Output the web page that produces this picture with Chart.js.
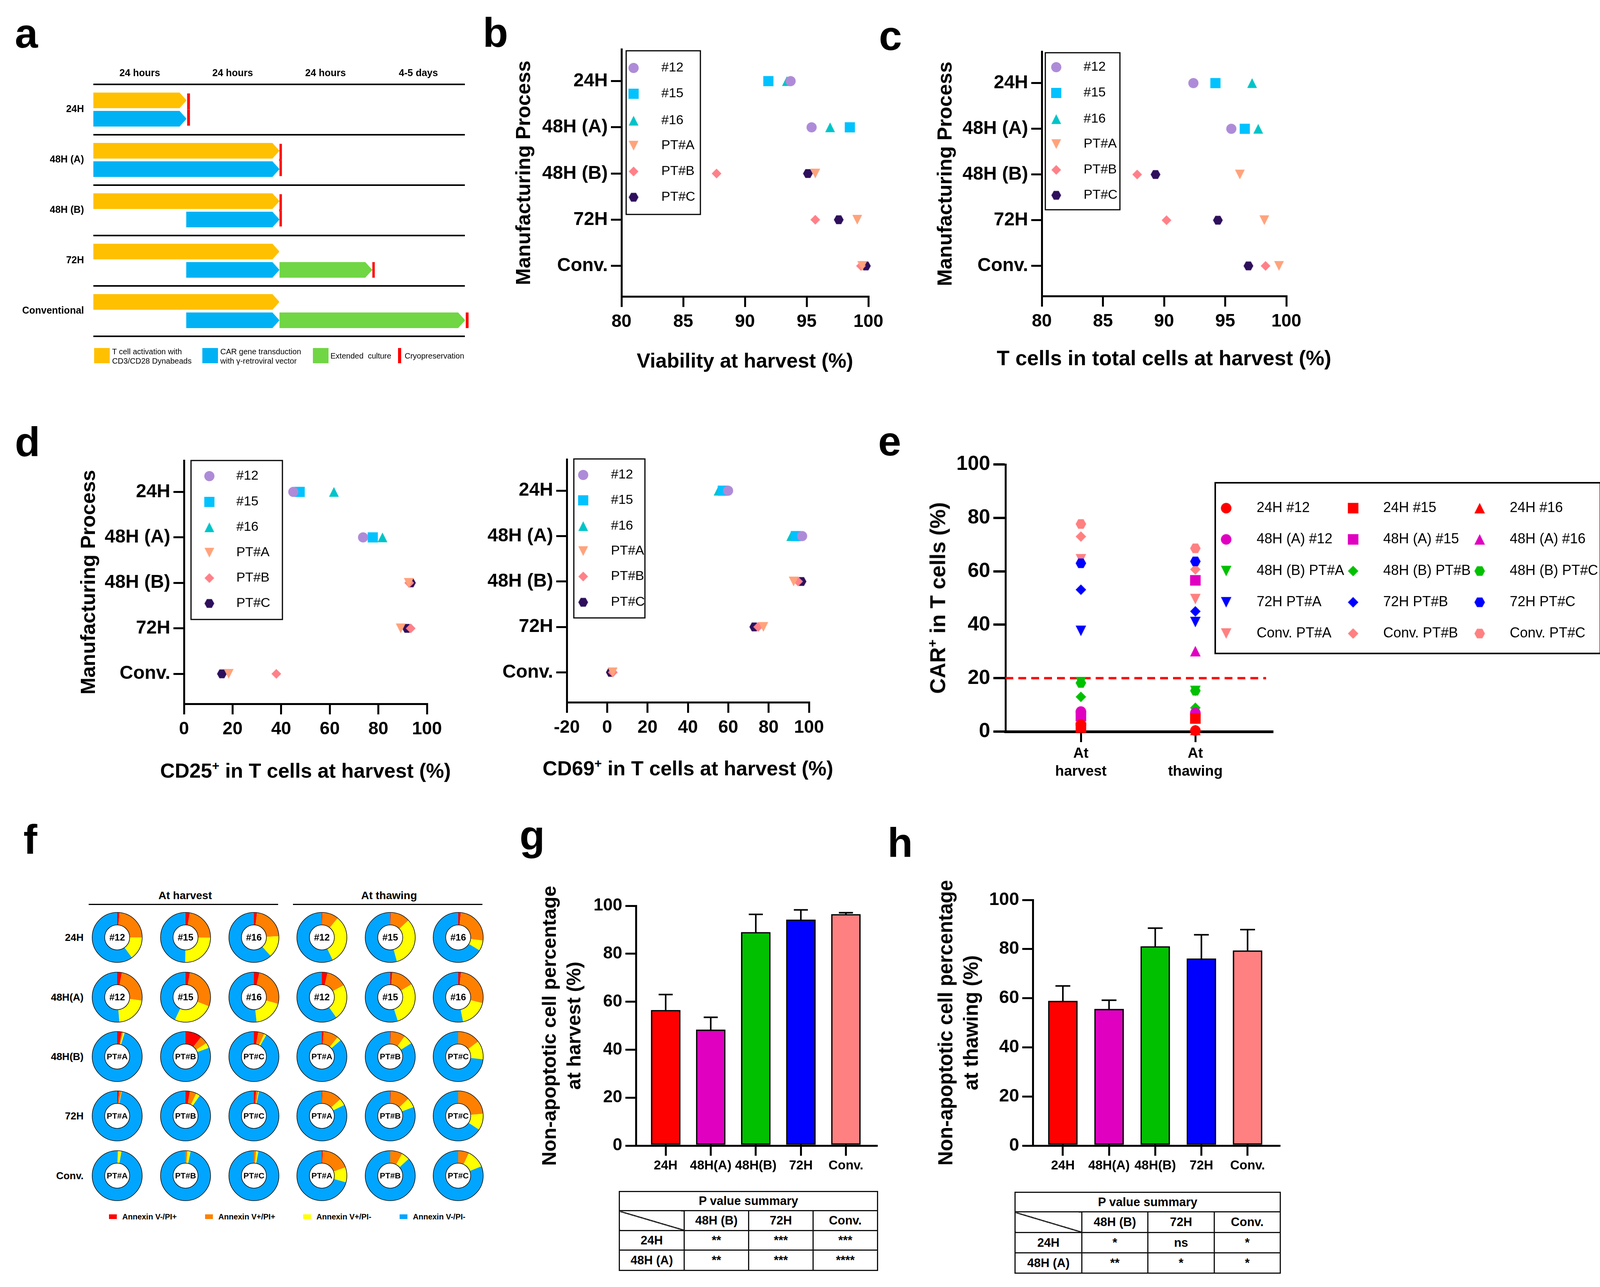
<!DOCTYPE html>
<html>
<head>
<meta charset="utf-8">
<title>CAR-T manufacturing process comparison</title>
<script src="https://cdn.jsdelivr.net/npm/chart.js@4"></script>
<style>
    html, body { margin: 0; background: #fff; }
    #page { position: relative; width: 4146px; height: 3295px; overflow: hidden; background: #fff;
            font-family: "Liberation Sans", Arial, sans-serif; color: #000; }
    #page canvas { position: absolute; display: block; }
    .txt { position: absolute; white-space: pre; line-height: 1; }
    .txt sup { font-size: 0.62em; line-height: 0; vertical-align: baseline; position: relative; top: -0.62em; }
    .swatch { position: absolute; }
    table.pval { position: absolute; border-collapse: collapse; table-layout: fixed; font-weight: bold; font-size: 31px; }
    table.pval td { border: 3px solid #111; text-align: center; padding: 0; overflow: hidden; }
    table.pval td.diag { background: linear-gradient(to top right, transparent calc(50% - 1.5px), #111 calc(50% - 1.5px), #111 calc(50% + 1.5px), transparent calc(50% + 1.5px)); }
</style>
</head>
<body>
<div id="page"></div>
<script>
// Shared labels
const processLabels = ['24H', '48H (A)', '48H (B)', '72H', 'Conv.'];
const donorLabels = ['#12', '#15', '#16', 'PT#A', 'PT#B', 'PT#C'];

// Panel a: culture stages in units of the four time columns
const timelineLabels = ['24H', '48H (A)', '48H (B)', '72H', 'Conventional'];
const periodLabels = ['24 hours', '24 hours', '24 hours', '4-5 days'];
const activationStage = [[0, 1], [0, 2], [0, 2], [0, 2], [0, 2]];
const transductionStage = [[0, 1], [0, 2], [1, 2], [1, 2], [1, 2]];
const extendedStage = [null, null, null, [2, 3], [2, 4]];
const cryoRowWide = [[1.01, 1.04], [2.0, 2.03], [2.0, 2.03], null, null];
const cryoRowLow = [null, null, null, [3.0, 3.03], [4.01, 4.04]];

// Panel b: viability at harvest
const viability12 = [93.7, 95.4, null, null, null];
const viability15 = [91.9, 98.5, null, null, null];
const viability16 = [93.4, 96.9, null, null, null];
const viabilityPtA = [null, null, 95.7, 99.1, 99.5];
const viabilityPtB = [null, null, 87.7, 95.7, 99.4];
const viabilityPtC = [null, null, 95.1, 97.6, 99.8];

// Panel c: T cells in total cells
const tcell12 = [92.4, 95.5, null, null, null];
const tcell15 = [94.2, 96.6, null, null, null];
const tcell16 = [97.2, 97.7, null, null, null];
const tcellPtA = [null, null, 96.2, 98.2, 99.4];
const tcellPtB = [null, null, 87.8, 90.2, 98.3];
const tcellPtC = [null, null, 89.3, 94.4, 96.9];

// Panel d: CD25 and CD69
const cd25a12 = [45, 73.7, null, null, null];
const cd25a15 = [47.6, 77.7, null, null, null];
const cd25a16 = [61.7, 81.7, null, null, null];
const cd25PtA = [null, null, 92.5, 89.2, 18.4];
const cd25PtB = [null, null, 92.7, 93.3, 38];
const cd25PtC = [null, null, 93.4, 91.8, 15.6];
const cd69a12 = [59.9, 96.6, null, null, null];
const cd69a15 = [57.3, 93.5, null, null, null];
const cd69a16 = [55.2, 91.2, null, null, null];
const cd69PtA = [null, null, 92.4, 77.4, 2.7];
const cd69PtB = [null, null, 94.6, 74.8, 2.8];
const cd69PtC = [null, null, 96.3, 72.9, 1.8];

// Panel e: CAR+ in T cells
const carLabels = ['24H #12', '24H #15', '24H #16', '48H (A) #12', '48H (A) #15', '48H (A) #16',
    '48H (B) PT#A', '48H (B) PT#B', '48H (B) PT#C', '72H PT#A', '72H PT#B', '72H PT#C',
    'Conv. PT#A', 'Conv. PT#B', 'Conv. PT#C'];
const carHarvest = [2.7, 1.5, 2.2, 7.5, 5.8, 4.4, 18.5, 13, 18.2, 37.7, 53.1, 63, 64.5, 73, 77.7];
const carThawing = [0.4, 4.9, 0.6, 7, 56.6, 30.1, 15.2, 8.9, 15.3, 41, 45, 63.7, 49.6, 60.7, 68.6];
const carTimepoints = [['At', 'harvest'], ['At', 'thawing']];
const carThreshold = 20;

// Panel f: [V-/PI+, V+/PI+, V+/PI-, V-/PI-] per donor, one array per process
const annexinLabels = ['Annexin V-/PI+', 'Annexin V+/PI+', 'Annexin V+/PI-', 'Annexin V-/PI-'];
const harvest24H = [[1.5, 23.5, 15, 60], [2.7, 22.5, 25, 49.8], [2, 22.2, 14.1, 61.7]];
const harvest48A = [[3, 24.2, 21.4, 51.4], [2.8, 28.1, 26.1, 43], [3.5, 25.8, 19, 51.7]];
const harvest48B = [[2.9, 0.9, 1.1, 95.1], [10.7, 5.2, 3.4, 80.7], [2.8, 4, 1.5, 91.7]];
const harvest72H = [[1.2, 1.4, 0.3, 97.1], [2.8, 4.3, 2.6, 90.3], [1.4, 1.4, 0.5, 96.7]];
const harvestConv = [[0, 0.6, 2.2, 97.2], [0, 1.2, 2.1, 96.7], [0, 1.4, 1.5, 97.1]];
const thawing24H = [[0.3, 10.6, 32, 57.1], [0.3, 12.7, 32.7, 54.3], [1.7, 25.3, 6.7, 66.3]];
const thawing48A = [[3.6, 13.4, 23.2, 59.8], [1.3, 15, 28.8, 54.9], [1.8, 27, 18.1, 53.1]];
const thawing48B = [[1.1, 9.8, 2.7, 86.4], [0.3, 9.5, 6.2, 84], [0, 14.7, 12.1, 73.2]];
const thawing72H = [[0.3, 13, 4.5, 82.2], [0.3, 12.6, 6.3, 80.8], [0, 23.6, 10.7, 65.7]];
const thawingConv = [[0.6, 19, 9.7, 70.7], [0, 7.9, 5.3, 86.8], [0, 7, 11.9, 81.1]];

// Panels g and h: non-apoptotic percentage and upper error bar
const barLabels = ['24H', '48H(A)', '48H(B)', '72H', 'Conv.'];
const apoptHarvest = [56.5, 48.3, 89, 94.2, 96.5];
const apoptHarvestErr = [63, 53.5, 96.4, 98.3, 97.1];
const apoptThawing = [58.9, 55.6, 81.1, 76.1, 79.4];
const apoptThawingErr = [65, 59.2, 88.5, 85.8, 87.9];

// P value tables
const pColumns = ['48H (B)', '72H', 'Conv.'];
const pRows = ['24H', '48H (A)'];
const pHarvest = [['**', '***', '***'], ['**', '***', '****']];
const pThawing = [['*', 'ns', '*'], ['**', '*', '*']];

const FONT = '"Liberation Sans", Arial, sans-serif';
const page = document.getElementById('page');
Chart.defaults.font.family = FONT;
Chart.defaults.color = '#000';
Chart.defaults.animation = false;
Chart.defaults.responsive = false;
Chart.defaults.devicePixelRatio = 1;
Chart.defaults.plugins.legend.display = false;
Chart.defaults.plugins.tooltip.enabled = false;

// Canvas placed at page coordinates
function addCanvas(box) {
    const c = document.createElement('canvas');
    c.width = box.r - box.l;
    c.height = box.b - box.t;
    c.style.left = box.l + 'px';
    c.style.top = box.t + 'px';
    page.appendChild(c);
    return c;
}

// Plain text at page coordinates, vertically centred on y
function addText(str, x, y, size, weight, align, rotate) {
    const d = document.createElement('div');
    d.className = 'txt';
    d.innerHTML = str;
    d.style.fontSize = size + 'px';
    d.style.fontWeight = weight || 'normal';
    d.style.left = x + 'px';
    d.style.top = y + 'px';
    const tx = align === 'right' ? '-100%' : align === 'center' ? '-50%' : '0';
    d.style.transform = `translate(${tx}, -50%)` + (rotate ? ` rotate(${rotate}deg)` : '');
    page.appendChild(d);
}

function addSwatch(l, t, r, b, color) {
    const d = document.createElement('div');
    d.className = 'swatch';
    d.style.cssText = `left:${l}px;top:${t}px;width:${r - l}px;height:${b - t}px;background:${color}`;
    page.appendChild(d);
}

// Panel letter placed by its baseline
function addLetter(ch, x, baseline) {
    const size = 106;
    const d = document.createElement('div');
    d.className = 'txt';
    d.textContent = ch;
    d.style.fontSize = size + 'px';
    d.style.fontWeight = 'bold';
    d.style.left = x + 'px';
    d.style.top = (baseline - 0.8465 * size) + 'px';
    page.appendChild(d);
}

// Nudge layout padding until the plot area sits where it should on the page
function pinPlot(chart, plot, box) {
    const pad = chart.config.options.layout.padding;
    for (let i = 0; i < 3; i++) {
        const area = chart.chartArea;
        const dTop = plot.t - box.t - area.top;
        const dRight = area.right - (plot.r - box.l);
        const dBottom = area.bottom - (plot.b - box.t);
        if (Math.abs(dTop) + Math.abs(dRight) + Math.abs(dBottom) < 0.5) break;
        pad.top = Math.max(0, pad.top + dTop);
        pad.right = Math.max(0, pad.right + dRight);
        pad.bottom = Math.max(0, pad.bottom + dBottom);
        chart.update();
    }
}

// Markers as small canvases, used as Chart.js point styles
function marker(shape, color, size) {
    const pad = 2;
    const c = document.createElement('canvas');
    c.width = c.height = size + pad * 2;
    const g = c.getContext('2d');
    const m = c.width / 2, r = size / 2;
    g.fillStyle = color;
    g.beginPath();
    if (shape === 'circle') {
        g.arc(m, m, r, 0, Math.PI * 2);
    } else if (shape === 'square') {
        g.rect(m - r, m - r, size, size);
    } else if (shape === 'up') {
        g.moveTo(m, m - r); g.lineTo(m + r, m + r); g.lineTo(m - r, m + r);
    } else if (shape === 'down') {
        g.moveTo(m - r, m - r); g.lineTo(m + r, m - r); g.lineTo(m, m + r);
    } else if (shape === 'diamond') {
        g.moveTo(m, m - r); g.lineTo(m + r, m); g.lineTo(m, m + r); g.lineTo(m - r, m);
    } else {
        const h = r * 0.9;
        g.moveTo(m - r, m); g.lineTo(m - r / 2, m - h); g.lineTo(m + r / 2, m - h);
        g.lineTo(m + r, m); g.lineTo(m + r / 2, m + h); g.lineTo(m - r / 2, m + h);
    }
    g.closePath();
    g.fill();
    return c;
}

// Legend drawn inside the chart canvas from its datasets
const boxLegend = {
    id: 'boxLegend',
    afterDraw(chart, args, o) {
        const ctx = chart.ctx;
        const ox = o.origin[0], oy = o.origin[1];
        ctx.save();
        ctx.strokeStyle = '#000';
        ctx.lineWidth = o.lineWidth;
        ctx.strokeRect(o.frame[0] - ox, o.frame[1] - oy, o.frame[2] - o.frame[0], o.frame[3] - o.frame[1]);
        ctx.fillStyle = '#000';
        ctx.font = o.fontSize + 'px ' + FONT;
        ctx.textBaseline = 'middle';
        const cols = o.markerX.length;
        for (let i = 0; i < o.count; i++) {
            const ds = chart.data.datasets[i];
            const col = i % cols, row = Math.floor(i / cols);
            const my = o.rowY[row] - oy;
            const st = ds.pointStyle;
            ctx.drawImage(st, o.markerX[col] - ox - st.width / 2, my - st.height / 2);
            ctx.fillText(ds.label, o.labelX[col] - ox, my);
        }
        ctx.restore();
    }
};

// Cuts the corners of stage bars so they end in an arrow tip
const arrowTips = {
    id: 'arrowTips',
    afterDatasetsDraw(chart, args, o) {
        const ctx = chart.ctx;
        ctx.save();
        ctx.fillStyle = '#fff';
        chart.data.datasets.forEach((ds, di) => {
            if (!ds.arrow) return;
            chart.getDatasetMeta(di).data.forEach((el, i) => {
                if (!ds.data[i]) return;
                const top = el.y - el.height / 2, bot = el.y + el.height / 2;
                ctx.beginPath();
                ctx.moveTo(el.x - o.tip, top - 1);
                ctx.lineTo(el.x + 1, top - 1);
                ctx.lineTo(el.x + 1, el.y);
                ctx.closePath();
                ctx.moveTo(el.x - o.tip, bot + 1);
                ctx.lineTo(el.x + 1, bot + 1);
                ctx.lineTo(el.x + 1, el.y);
                ctx.closePath();
                ctx.fill();
            });
        });
        ctx.restore();
    }
};

// Upper error bars read through the chart's scales
const upperErrors = {
    id: 'upperErrors',
    beforeDatasetsDraw(chart, args, o) {
        const ctx = chart.ctx, xs = chart.scales.x, ys = chart.scales.y;
        ctx.save();
        ctx.strokeStyle = '#000';
        ctx.lineWidth = 4;
        o.tops.forEach((top, i) => {
            const x = xs.getPixelForValue(i), yTop = ys.getPixelForValue(top);
            ctx.beginPath();
            ctx.moveTo(x, ys.getPixelForValue(0));
            ctx.lineTo(x, yTop);
            ctx.moveTo(x - o.cap / 2, yTop);
            ctx.lineTo(x + o.cap / 2, yTop);
            ctx.stroke();
        });
        ctx.restore();
    }
};

// Black outlines and centre label of a donut
const ringOutline = {
    id: 'ringOutline',
    afterDatasetsDraw(chart, args, o) {
        const ctx = chart.ctx;
        const arc = chart.getDatasetMeta(0).data[0];
        ctx.save();
        ctx.strokeStyle = '#111';
        ctx.lineWidth = 1.6;
        ctx.beginPath();
        ctx.arc(arc.x, arc.y, arc.outerRadius, 0, Math.PI * 2);
        ctx.stroke();
        ctx.beginPath();
        ctx.arc(arc.x, arc.y, arc.innerRadius, 0, Math.PI * 2);
        ctx.stroke();
        ctx.fillStyle = '#000';
        ctx.font = 'bold ' + o.size + 'px ' + FONT;
        ctx.textAlign = 'center';
        ctx.textBaseline = 'middle';
        ctx.fillText(o.label, arc.x, arc.y + 1);
        ctx.restore();
    }
};

// Axis styling shared by the GraphPad style panels
function inkGrid(lineWidth, tickLength) {
    return { display: true, drawOnChartArea: false, drawTicks: true, tickLength, lineWidth, color: '#000', tickColor: '#000' };
}
function inkBorder(width) {
    return { display: true, color: '#000', width };
}

const MARKER_COLORS = ['#AE8BD8', '#00C2FF', '#00C4C8', '#FFA37C', '#FF8088', '#2E0F5C'];
const MARKER_SHAPES = ['circle', 'square', 'up', 'down', 'diamond', 'hexagon'];
const MARKER_SIZES = [26, 26, 25, 25, 25, 25];

// Horizontal dot plot used by panels b, c and d
function processPlot(s) {
    const { box, plot } = s;
    const datasets = s.series.map((values, i) => ({
        label: donorLabels[i],
        data: values.map((v, row) => (v === null ? null : { x: v, y: row })).filter(Boolean),
        pointStyle: marker(MARKER_SHAPES[i], MARKER_COLORS[i], MARKER_SIZES[i]),
        pointRadius: 13,
        clip: false
    }));
    const chart = new Chart(addCanvas(box), {
        type: 'scatter',
        data: { datasets },
        options: {
            layout: { padding: { top: plot.t - box.t, right: box.r - plot.r, left: 0, bottom: 0 } },
            scales: {
                x: {
                    type: 'linear', min: s.xMin, max: s.xMax,
                    ticks: { stepSize: s.xStep, font: { size: 46, weight: 'bold' }, padding: 11, maxRotation: 0, autoSkip: false },
                    grid: inkGrid(5, 27), border: inkBorder(5),
                    afterFit: a => { a.height = box.b - plot.b; }
                },
                y: {
                    type: 'linear', reverse: true, min: -0.69, max: 4.66,
                    afterBuildTicks: a => { a.ticks = processLabels.map((_, i) => ({ value: i })); },
                    ticks: { callback: v => processLabels[v], font: { size: 48, weight: 'bold' }, padding: 8, autoSkip: false },
                    grid: inkGrid(5, 27), border: inkBorder(5),
                    title: { display: !!s.yTitle, text: s.yTitle, font: { size: 52, weight: 'bold', lineHeight: 1.2 }, padding: 0 },
                    afterFit: a => { a.width = plot.l - box.l; }
                }
            },
            plugins: {
                boxLegend: {
                    origin: [box.l, box.t], frame: s.legend.frame, markerX: [s.legend.markerX], labelX: [s.legend.labelX],
                    rowY: s.legend.rowY, count: 6, fontSize: 34, lineWidth: 3
                }
            }
        },
        plugins: [boxLegend]
    });
    pinPlot(chart, plot, box);
    addText(s.xTitle, (plot.l + plot.r) / 2, s.xTitleY, s.xTitleSize, 'bold', 'center');
}

// Bar chart with upper error bars used by panels g and h
function barPlot(s) {
    const { box, plot } = s;
    const colors = ['#FF0000', '#E000C0', '#00C000', '#0000FF', '#FF8080'];
    const chart = new Chart(addCanvas(box), {
        type: 'bar',
        data: {
            datasets: [{
                data: s.values.map((v, i) => ({ x: i, y: v })),
                backgroundColor: colors, borderColor: '#000', borderWidth: 3.5, borderSkipped: false,
                barThickness: 75
            }]
        },
        options: {
            layout: { padding: { top: plot.t - box.t, right: box.r - plot.r, left: 0, bottom: 0 } },
            scales: {
                x: {
                    type: 'linear', offset: false, min: s.xMin, max: s.xMax,
                    afterBuildTicks: a => { a.ticks = barLabels.map((_, i) => ({ value: i })); },
                    ticks: { callback: v => barLabels[v], font: { size: 33, weight: 'bold' }, padding: 6, maxRotation: 0, autoSkip: false },
                    grid: { ...inkGrid(5, 26), offset: false }, border: inkBorder(5),
                    afterFit: a => { a.height = box.b - plot.b; }
                },
                y: {
                    type: 'linear', min: 0, max: 100,
                    ticks: { stepSize: 20, font: { size: s.tickSize, weight: 'bold' }, padding: 8 },
                    grid: inkGrid(5, 27), border: inkBorder(5),
                    title: { display: true, text: s.yTitle, font: { size: s.titleSize, weight: 'bold', lineHeight: s.titleLine }, padding: 0 },
                    afterFit: a => { a.width = plot.l - box.l; }
                }
            },
            plugins: { upperErrors: { tops: s.errors, cap: s.cap } }
        },
        plugins: [upperErrors]
    });
    pinPlot(chart, plot, box);
}

// P value summary table
function pTable(left, top, colW, rowH, rows) {
    const t = document.createElement('table');
    t.className = 'pval';
    t.style.left = left + 'px';
    t.style.top = top + 'px';
    t.style.width = colW.reduce((a, b) => a + b, 0) + 'px';
    const cg = document.createElement('colgroup');
    colW.forEach(w => {
        const c = document.createElement('col');
        c.style.width = w + 'px';
        cg.appendChild(c);
    });
    t.appendChild(cg);
    const addRow = (h, cells) => {
        const tr = t.insertRow();
        tr.style.height = h + 'px';
        cells.forEach(fill => fill(tr.insertCell()));
    };
    addRow(rowH[0], [td => { td.colSpan = 4; td.textContent = 'P value summary'; }]);
    addRow(rowH[1], [td => { td.className = 'diag'; }].concat(pColumns.map(c => td => { td.textContent = c; })));
    pRows.forEach((name, r) => {
        addRow(rowH[r + 2], [td => { td.textContent = name; }].concat(rows[r].map(c => td => { td.textContent = c; })));
    });
    page.appendChild(t);
}

// ---- Panel a ----
(function drawTimeline() {
    const box = { l: 0, t: 150, r: 1260, b: 930 };
    const plot = { l: 239, t: 216, r: 1190, b: 861 };
    const stage = (data, color, stack, arrow) => ({
        data, backgroundColor: color, stack, arrow, clip: false, categoryPercentage: 0.729, barPercentage: 0.85
    });
    const cryo = (data, stack) => ({
        data, backgroundColor: '#FF0000', stack, clip: false, categoryPercentage: 0.64, barPercentage: 1
    });
    const chart = new Chart(addCanvas(box), {
        type: 'bar',
        data: {
            labels: timelineLabels,
            datasets: [
                stage(activationStage, '#FFC000', 'top', true),
                stage(transductionStage, '#00B2F4', 'bottom', true),
                stage(extendedStage, '#70D644', 'bottom', true),
                stage(cryoRowLow, '#FF0000', 'bottom', false),
                cryo(cryoRowWide, 'top'),
                cryo(cryoRowWide, 'bottom')
            ]
        },
        options: {
            indexAxis: 'y',
            layout: { padding: { top: 0, right: box.r - plot.r, left: 0, bottom: box.b - plot.b } },
            scales: {
                x: {
                    type: 'linear', position: 'top', stacked: false, min: 0, max: 4,
                    afterBuildTicks: a => { a.ticks = periodLabels.map((_, i) => ({ value: i + 0.5 })); },
                    ticks: { callback: (v, i) => periodLabels[i], font: { size: 25, weight: 'bold' }, padding: 13, maxRotation: 0, autoSkip: false },
                    grid: { display: false, drawTicks: false }, border: { display: false },
                    afterFit: a => { a.height = plot.t - box.t; }
                },
                y: {
                    type: 'category',
                    ticks: { font: { size: 25, weight: 'bold' }, padding: 24, autoSkip: false },
                    grid: { display: true, offset: true, drawTicks: false, color: '#000', lineWidth: 4 },
                    border: { display: false },
                    afterFit: a => { a.width = plot.l - box.l; }
                }
            },
            plugins: { arrowTips: { tip: 18 } }
        },
        plugins: [arrowTips]
    });
    pinPlot(chart, plot, box);
    // stage legend
    addSwatch(241, 891, 281, 930, '#FFC000');
    addText('T cell activation with', 287, 900, 20);
    addText('CD3/CD28 Dynabeads', 287, 924, 20);
    addSwatch(518, 891, 558, 930, '#00B2F4');
    addText('CAR gene transduction', 564, 900, 20);
    addText('with γ-retroviral vector', 564, 924, 20);
    addSwatch(801, 891, 841, 930, '#70D644');
    addText('Extended  culture', 846, 911, 20);
    addSwatch(1019, 891, 1027, 930, '#FF0000');
    addText('Cryopreservation', 1036, 911, 20);
})();

// ---- Panels b, c, d ----
processPlot({
    box: { l: 1311, t: 60, r: 2300, b: 880 }, plot: { l: 1591, t: 126, r: 2223, b: 759 },
    series: [viability12, viability15, viability16, viabilityPtA, viabilityPtB, viabilityPtC],
    xMin: 80, xMax: 100, xStep: 5, xTitle: 'Viability at harvest (%)', xTitleY: 923, xTitleSize: 52, yTitle: 'Manufacturing Process',
    legend: { frame: [1603, 130, 1793, 549], markerX: 1622, labelX: 1693, rowY: [174, 240, 309, 373, 439, 505] }
});
processPlot({
    box: { l: 2390, t: 60, r: 3430, b: 880 }, plot: { l: 2667, t: 132, r: 3293, b: 758 },
    series: [tcell12, tcell15, tcell16, tcellPtA, tcellPtB, tcellPtC],
    xMin: 80, xMax: 100, xStep: 5, xTitle: 'T cells in total cells at harvest (%)', xTitleY: 917, xTitleSize: 53.5, yTitle: 'Manufacturing Process',
    legend: { frame: [2676, 135, 2867, 537], markerX: 2704, labelX: 2774, rowY: [172, 238, 305, 369, 435, 500] }
});
processPlot({
    box: { l: 197, t: 1120, r: 1170, b: 1930 }, plot: { l: 471, t: 1179, r: 1093, b: 1802 },
    series: [cd25a12, cd25a15, cd25a16, cd25PtA, cd25PtB, cd25PtC],
    xMin: 0, xMax: 100, xStep: 20, xTitle: 'CD25<sup>+</sup> in T cells at harvest (%)', xTitleY: 1973, xTitleSize: 52, yTitle: 'Manufacturing Process',
    legend: { frame: [489, 1179, 723, 1586], markerX: 536, labelX: 605, rowY: [1219, 1285, 1350, 1415, 1480, 1545] }
});
processPlot({
    box: { l: 1240, t: 1120, r: 2150, b: 1930 }, plot: { l: 1451, t: 1176, r: 2071, b: 1798 },
    series: [cd69a12, cd69a15, cd69a16, cd69PtA, cd69PtB, cd69PtC],
    xMin: -20, xMax: 100, xStep: 20, xTitle: 'CD69<sup>+</sup> in T cells at harvest (%)', xTitleY: 1967, xTitleSize: 52, yTitle: '',
    legend: { frame: [1469, 1175, 1651, 1582], markerX: 1493, labelX: 1564, rowY: [1216, 1281, 1347, 1411, 1476, 1542] }
});

// ---- Panel e ----
(function drawCar() {
    const box = { l: 2369, t: 1130, r: 4140, b: 2020 };
    const plot = { l: 2574, t: 1189, r: 3257, b: 1873 };
    const groupColors = ['#FF0000', '#E000C0', '#00C000', '#0000FF', '#FF8080'];
    const groupShapes = [['circle', 'square', 'up'], ['circle', 'square', 'up'], ['down', 'diamond', 'hexagon'],
        ['down', 'diamond', 'hexagon'], ['down', 'diamond', 'hexagon']];
    const datasets = carLabels.map((label, i) => ({
        label,
        data: [{ x: 1, y: carHarvest[i] }, { x: 2, y: carThawing[i] }],
        pointStyle: marker(groupShapes[Math.floor(i / 3)][i % 3], groupColors[Math.floor(i / 3)], 27),
        pointRadius: 13,
        clip: false
    }));
    datasets.push({
        label: 'threshold',
        data: [{ x: 0.341, y: carThreshold }, { x: 2.618, y: carThreshold }],
        showLine: true, pointRadius: 0, borderColor: '#FF0000', borderWidth: 6, borderDash: [20, 13]
    });
    const chart = new Chart(addCanvas(box), {
        type: 'scatter',
        data: { datasets },
        options: {
            layout: { padding: { top: plot.t - box.t, right: box.r - plot.r, left: 0, bottom: 0 } },
            scales: {
                x: {
                    type: 'linear', min: 0.341, max: 2.672,
                    afterBuildTicks: a => { a.ticks = carTimepoints.map((_, i) => ({ value: i + 1 })); },
                    ticks: { callback: v => carTimepoints[v - 1], font: { size: 37, weight: 'bold', lineHeight: 1.24 }, padding: 7, maxRotation: 0, autoSkip: false },
                    grid: inkGrid(5, 27), border: inkBorder(7),
                    afterFit: a => { a.height = box.b - plot.b; }
                },
                y: {
                    type: 'linear', min: 0, max: 100,
                    ticks: { stepSize: 20, font: { size: 52, weight: 'bold' }, padding: 8 },
                    grid: inkGrid(6, 31), border: inkBorder(5),
                    afterFit: a => { a.width = plot.l - box.l; }
                }
            },
            plugins: {
                boxLegend: {
                    origin: [box.l, box.t], frame: [3111, 1236, 4097, 1673], markerX: [3139, 3464, 3788], labelX: [3217, 3541, 3865],
                    rowY: [1301, 1381, 1462, 1542, 1622], count: 15, fontSize: 36, lineWidth: 4
                }
            }
        },
        plugins: [boxLegend]
    });
    pinPlot(chart, plot, box);
    addText('CAR<sup>+</sup> in T cells (%)', 2401, 1531, 55, 'bold', 'center', -90);
})();

// ---- Panel f ----
(function drawRings() {
    const colX = [300, 475, 650, 824, 999, 1173];
    const rowY = [2400, 2553, 2705, 2857, 3010];
    const ringColors = ['#FF0000', '#FF8000', '#FFFF00', '#00A5FF'];
    const harvestRows = [harvest24H, harvest48A, harvest48B, harvest72H, harvestConv];
    const thawingRows = [thawing24H, thawing48A, thawing48B, thawing72H, thawingConv];
    const rowNames = ['24H', '48H(A)', '48H(B)', '72H', 'Conv.'];
    const half = 66;
    rowY.forEach((y, r) => {
        addText(rowNames[r], 214, y, 26, 'bold', 'right');
        const cells = harvestRows[r].concat(thawingRows[r]);
        cells.forEach((values, c) => {
            const x = colX[c];
            const label = r < 2 ? donorLabels[c % 3] : donorLabels[3 + c % 3];
            new Chart(addCanvas({ l: x - half, t: y - half, r: x + half, b: y + half }), {
                type: 'doughnut',
                data: {
                    labels: annexinLabels,
                    datasets: [{ data: values, backgroundColor: ringColors, borderWidth: 0, hoverOffset: 0 }]
                },
                options: {
                    cutout: '50%',
                    layout: { padding: 2 },
                    plugins: { ringOutline: { label, size: r < 2 ? 24 : 21 } }
                },
                plugins: [ringOutline]
            });
        });
    });
    addText('At harvest', 474, 2293, 28, 'bold', 'center');
    addText('At thawing', 996, 2293, 28, 'bold', 'center');
    addSwatch(227, 2314, 712, 2317, '#000');
    addSwatch(750, 2314, 1235, 2317, '#000');
    const legendX = [279, 525, 776, 1023];
    annexinLabels.forEach((label, i) => {
        addSwatch(legendX[i], 3109, legendX[i] + 20, 3121, ringColors[i]);
        addText(label, legendX[i] + 34, 3115, 20, 'bold');
    });
})();

// ---- Panels g, h ----
barPlot({
    box: { l: 1378, t: 2260, r: 2300, b: 3030 }, plot: { l: 1628, t: 2319, r: 2244, b: 2933 },
    values: apoptHarvest, errors: apoptHarvestErr, xMin: -0.66, xMax: 4.68, cap: 36,
    tickSize: 44, titleSize: 50, titleLine: 1.26,
    yTitle: ['Non-apoptotic cell percentage', 'at harvest (%)']
});
barPlot({
    box: { l: 2391, t: 2250, r: 3330, b: 3030 }, plot: { l: 2644, t: 2304, r: 3275, b: 2933 },
    values: apoptThawing, errors: apoptThawingErr, xMin: -0.651, xMax: 4.687, cap: 38,
    tickSize: 46, titleSize: 51, titleLine: 1.275,
    yTitle: ['Non-apoptotic cell percentage', 'at thawing (%)']
});
pTable(1584, 3049, [166, 165, 165, 165], [49, 51, 50, 52], pHarvest);
pTable(2597, 3051, [171, 169, 170, 169], [50, 53, 52, 52], pThawing);

// ---- Panel letters ----
addLetter('a', 38, 122);
addLetter('b', 1236, 120);
addLetter('c', 2250, 128);
addLetter('d', 38, 1168);
addLetter('e', 2248, 1166);
addLetter('f', 60, 2186);
addLetter('g', 1330, 2176);
addLetter('h', 2272, 2194);
</script>
</body>
</html>
